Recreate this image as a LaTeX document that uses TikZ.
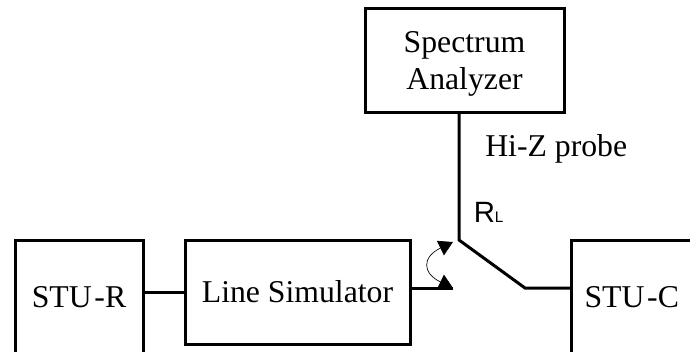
\documentclass[tikz,border=0pt]{standalone}
\usepackage{fontspec}
\setmainfont{Liberation Serif}
\newfontfamily\rlfont{Liberation Sans}
\usetikzlibrary{positioning}
\usetikzlibrary{arrows.meta}
\tikzset{
  block/.style={draw,line width=2.25pt,outer sep=0pt,inner sep=0pt,align=center,font=\fontsize{23.8}{28}\selectfont},
  wire/.style={line width=2.25pt},
  label/.style={anchor=base west,inner sep=0pt,font=\fontsize{23.8}{28}\selectfont},
  swing/.style={line width=0.5pt,{Triangle[length=10.5pt,width=12pt]}-{Triangle[length=10.5pt,width=12pt]}}
}
\begin{document}
\begin{tikzpicture}[x=0.75pt,y=-0.75pt]
   \useasboundingbox (0,0) rectangle (690,351);
   \clip (0,0) rectangle (690,351);
   \node[block,minimum width=96pt,minimum height=85.5pt] (stur) at (79,297) {STU\kern2pt-R};
   \node[block,minimum width=168.75pt,minimum height=78pt,right=31.5pt of stur.north east,anchor=north west] (lsim) {Line Simulator};
   \node[block,minimum width=91pt,minimum height=85.5pt] (stuc) at (631.75,297) {STU\kern2pt-C};
   \node[block,minimum width=149.25pt,minimum height=78pt] (spec) at (464.5,60) {\rule{0pt}{22pt}Spectrum\\Analyzer};
   \coordinate (pivot) at (459,240);
   \coordinate (knee) at (525,288);
   \coordinate (stub) at (453,288);
   \coordinate (tip) at (453,242);
   \draw[wire] (stur.east |- lsim.west) -- (lsim.west);
   \draw[wire,line join=miter] (pivot |- spec.south) -- (pivot) -- (knee) -- (knee -| stuc.west);
   \draw[wire] (stub -| lsim.east) -- (stub);
   \draw[swing] (tip) .. controls (422,257) and (422,273) .. (stub);
   \node[label] (probe) at (485,156) {Hi-Z probe};
   \node[label,font=\rlfont\fontsize{22}{26}\selectfont] (rl) at (473.5,222) {R\raisebox{0pt}{\fontsize{11.5}{13}\selectfont L}};
 \end{tikzpicture}
\end{document}
